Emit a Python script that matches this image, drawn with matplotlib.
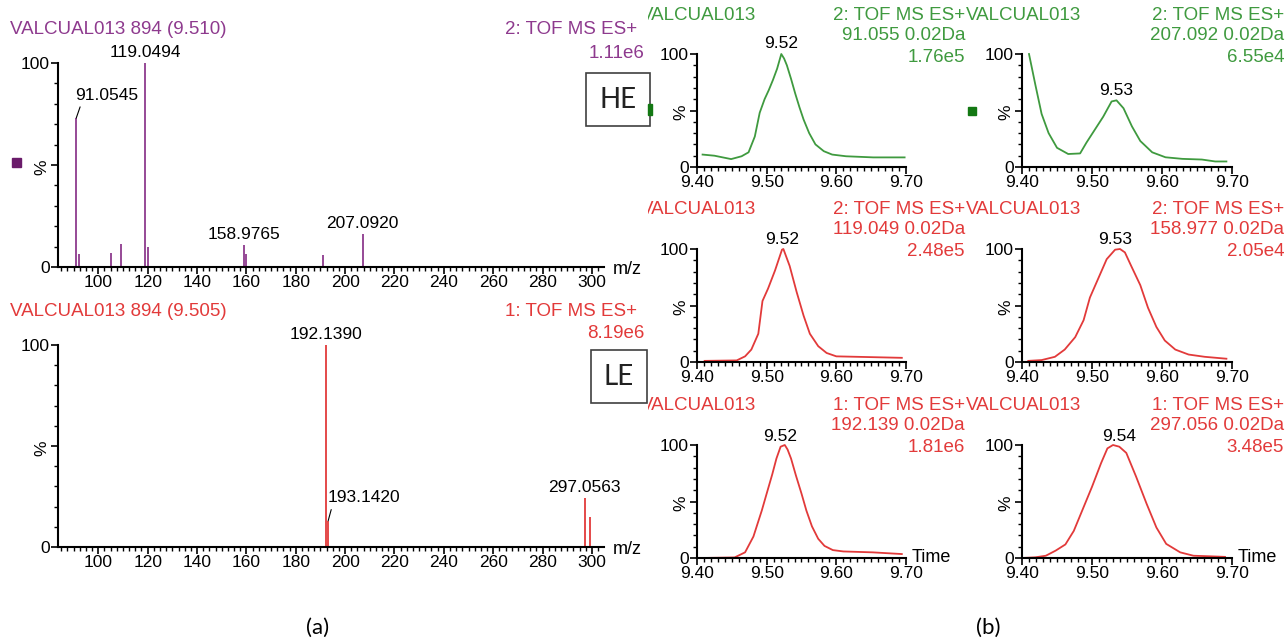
import matplotlib
matplotlib.use('Agg')
import matplotlib.pyplot as plt
from matplotlib.ticker import MultipleLocator
from matplotlib.patches import Rectangle
from matplotlib.transforms import Bbox

W, H = 1287, 643
plt.rcParams['font.family'] = ['Liberation Sans', 'DejaVu Sans']

PURPLE = '#8e3a8e'
GREEN = '#3f9a3f'
RED = '#e23a3a'

# spectrum (a), high energy
he_mz = [91.0545, 92.06, 105.07, 109.10, 119.0494, 120.05, 158.9765, 160.0, 191.1, 207.0920]
he_int = [73, 6.5, 7, 11.5, 100, 10, 10.7, 6.5, 5.7, 16.4]
he_labelled = [119.0494, 158.9765, 207.0920]
# spectrum (a), low energy
le_mz = [192.1390, 193.1420, 297.0563, 299.4]
le_int = [100, 13, 24.4, 15]
le_labelled = [192.1390, 297.0563]

# chromatograms (b)
rt1 = [9.408, 9.425, 9.449, 9.464, 9.474, 9.483, 9.490, 9.497, 9.503, 9.509, 9.515, 9.521, 9.525, 9.529,
       9.535, 9.541, 9.547, 9.553, 9.561, 9.570, 9.582, 9.594, 9.614, 9.653, 9.698]
in1 = [11, 10, 7, 9.5, 13, 27, 48, 60, 68, 77, 87, 100, 96, 90, 78, 65, 53, 42, 30, 20, 14, 11, 9.5, 8.5, 8.5]
rt2 = [9.410, 9.419, 9.428, 9.438, 9.450, 9.466, 9.483, 9.492, 9.504, 9.516, 9.528, 9.535, 9.545, 9.557,
       9.569, 9.586, 9.605, 9.629, 9.657, 9.676, 9.692]
in2 = [100, 73, 47, 30, 17, 11.5, 12, 21.5, 33, 44.5, 58, 59, 52, 36, 23, 13, 8.6, 7.2, 6.6, 4.9, 4.9]
rt3 = [9.411, 9.457, 9.469, 9.478, 9.488, 9.494, 9.502, 9.512, 9.522, 9.524, 9.533, 9.543, 9.553, 9.562,
       9.574, 9.586, 9.600, 9.629, 9.694]
in3 = [1, 1.4, 5, 11, 25, 54, 65, 81, 99.4, 100, 85, 62, 41, 25, 14, 8, 5, 4.6, 3.7]
rt4 = [9.409, 9.428, 9.447, 9.461, 9.476, 9.488, 9.497, 9.509, 9.521, 9.533, 9.540, 9.547, 9.556, 9.569,
       9.580, 9.592, 9.604, 9.619, 9.638, 9.661, 9.692]
in4 = [1, 1.7, 4.6, 11, 22, 37, 57, 74, 91, 99.4, 100, 97, 85, 68, 48, 31, 19, 11, 6.6, 4.6, 2.9]
rt5 = [9.406, 9.454, 9.469, 9.481, 9.493, 9.500, 9.508, 9.514, 9.520, 9.526, 9.530, 9.535, 9.542, 9.550,
       9.557, 9.565, 9.574, 9.583, 9.595, 9.610, 9.652, 9.694]
in5 = [0, 0.5, 5, 19, 42, 57, 74, 88, 98.5, 100, 96, 88, 73, 57, 42, 28, 17, 10.7, 7, 5.8, 5, 3.5]
rt6 = [9.400, 9.419, 9.434, 9.448, 9.462, 9.474, 9.486, 9.500, 9.513, 9.522, 9.530, 9.539, 9.549, 9.563,
       9.578, 9.592, 9.606, 9.626, 9.645, 9.669, 9.690]
in6 = [0, 0.6, 2, 6.5, 12, 24, 42, 63, 84, 97, 100, 98.5, 93, 72, 48, 27, 12.5, 5, 2, 1.5, 1]

chrom_rt = [rt1, rt2, rt3, rt4, rt5, rt6]
chrom_int = [in1, in2, in3, in4, in5, in6]
chrom_peak = [9.52, 9.53, 9.52, 9.53, 9.52, 9.54]
chrom_func = ['2: TOF MS ES+', '2: TOF MS ES+', '2: TOF MS ES+', '2: TOF MS ES+', '1: TOF MS ES+', '1: TOF MS ES+']
chrom_mass = ['91.055 0.02Da', '207.092 0.02Da', '119.049 0.02Da', '158.977 0.02Da', '192.139 0.02Da', '297.056 0.02Da']
chrom_max = ['1.76e5', '6.55e4', '2.48e5', '2.05e4', '1.81e6', '3.48e5']
chrom_color = [GREEN, GREEN, RED, RED, RED, RED]

fig = plt.figure(figsize=(W / 100, H / 100), dpi=100)


def add_ax(x0, y0, x1, y1):
    return fig.add_axes([x0 / W, 1 - y1 / H, (x1 - x0) / W, (y1 - y0) / H])


def ftext(x, y, s, **kw):
    return fig.text(x / W, 1 - y / H, s, **kw)


def style(ax):
    ax.set_ylim(0, 100)
    for s in ['top', 'right']:
        ax.spines[s].set_visible(False)
    for s in ['left', 'bottom']:
        ax.spines[s].set_linewidth(1.5)
    ax.set_yticks([0, 50, 100])
    ax.set_yticklabels(['0', '%', '100'])
    ax.get_yticklabels()[1].set_rotation(90)
    ax.yaxis.set_minor_locator(MultipleLocator(10))
    ax.tick_params(which='major', direction='out', length=5, width=1.2, pad=1, labelsize=12.5)
    ax.tick_params(which='minor', direction='out', length=3, width=1.0)


# ---- (a) spectra ----
mz_lim = (83.67, 304.9)
ax_he = add_ax(58, 63, 604, 267)
ax_le = add_ax(58, 345, 604, 547)
for ax, mz, inten, col in [(ax_he, he_mz, he_int, PURPLE), (ax_le, le_mz, le_int, RED)]:
    ax.vlines(mz, 0, inten, color=col, lw=1.3, clip_on=False)
    style(ax)
    ax.set_xlim(*mz_lim)
    ax.xaxis.set_major_locator(MultipleLocator(20))
    ax.xaxis.set_minor_locator(MultipleLocator(2.5))
    ax.annotate('m/z', xy=(1, 0), xycoords='axes fraction', xytext=(6, -2),
                textcoords='offset points', ha='left', va='center', fontsize=13)

for mz in he_labelled:
    ax_he.annotate(f'{mz:.4f}', xy=(mz, he_int[he_mz.index(mz)]), xytext=(0, 2),
                   textcoords='offset points', ha='center', va='bottom', fontsize=12.5)
for mz in le_labelled:
    ax_le.annotate(f'{mz:.4f}', xy=(mz, le_int[le_mz.index(mz)]), xytext=(0, 2),
                   textcoords='offset points', ha='center', va='bottom', fontsize=12.5)

# labels with leader lines
ax_he.annotate(f'{he_mz[0]:.4f}', xy=(he_mz[0], he_int[0]), xytext=(22, 11),
               textcoords='offset points', ha='center', va='bottom', fontsize=12.5,
               arrowprops=dict(arrowstyle='-', lw=0.8, color='black', relpos=(0.1, 0),
                               shrinkA=1, shrinkB=0))
ax_le.annotate(f'{le_mz[1]:.4f}', xy=(le_mz[1], le_int[1]), xytext=(26, 11),
               textcoords='offset points', ha='center', va='bottom', fontsize=12.5,
               arrowprops=dict(arrowstyle='-', lw=0.8, color='black', relpos=(0.06, 0),
                               shrinkA=1, shrinkB=0))

ftext(10, 30, 'VALCUAL013 894 (9.510)', color=PURPLE, fontsize=13.5, va='center', ha='left')
ftext(637, 30, '2: TOF MS ES+', color=PURPLE, fontsize=13.5, va='center', ha='right')
ftext(645, 53, '1.11e6', color=PURPLE, fontsize=13.5, va='center', ha='right')
ftext(10, 312, 'VALCUAL013 894 (9.505)', color=RED, fontsize=13.5, va='center', ha='left')
ftext(637, 312, '1: TOF MS ES+', color=RED, fontsize=13.5, va='center', ha='right')
ftext(645, 333, '8.19e6', color=RED, fontsize=13.5, va='center', ha='right')

# ---- (b) chromatograms ----
clip = Bbox.from_extents(648, 0, W, H)
cols = [(697, 906, 965), (1022, 1232, 1284)]
rows = [(54, 167), (249, 362), (445, 558)]
for i in range(6):
    r, c = divmod(i, 2)
    x0, x1, xr = cols[c]
    y0, y1 = rows[r]
    ax = add_ax(x0, y0, x1, y1)
    col = chrom_color[i]
    ax.plot(chrom_rt[i], chrom_int[i], color=col, lw=1.3, clip_on=False)
    style(ax)
    ax.set_xlim(9.40, 9.70)
    ax.set_xticks([9.40, 9.50, 9.60, 9.70])
    ax.set_xticklabels([f'{v:.2f}' for v in [9.40, 9.50, 9.60, 9.70]])
    ax.xaxis.set_minor_locator(MultipleLocator(0.01))
    k = min(range(len(chrom_rt[i])), key=lambda j: abs(chrom_rt[i][j] - chrom_peak[i]) - chrom_int[i][j] / 1000)
    if i == 1:
        k = max(range(5, len(chrom_int[i])), key=lambda j: chrom_int[i][j])
    ax.annotate(f'{chrom_peak[i]:.2f}', xy=(chrom_rt[i][k], chrom_int[i][k]), xytext=(0, 2),
                textcoords='offset points', ha='center', va='bottom', fontsize=12.5)
    if r == 2:
        ax.annotate('Time', xy=(1, 0), xycoords='axes fraction', xytext=(4, 0),
                    textcoords='offset points', ha='left', va='center', fontsize=13)
    t = ftext(x0 - 56, y0 - 39, 'VALCUAL013', color=col, fontsize=13.5, va='center', ha='left')
    t.set_clip_box(clip)
    t.set_clip_on(True)
    ftext(xr, y0 - 39, chrom_func[i], color=col, fontsize=13.5, va='center', ha='right')
    ftext(xr, y0 - 19, chrom_mass[i], color=col, fontsize=13.5, va='center', ha='right')
    ftext(xr, y0 + 3, chrom_max[i], color=col, fontsize=13.5, va='center', ha='right')


# markers and boxes in figure pixels
def frect(x0, y0, x1, y1, **kw):
    fig.patches.append(Rectangle((x0 / W, 1 - y1 / H), (x1 - x0) / W, (y1 - y0) / H,
                                 transform=fig.transFigure, figure=fig, **kw))


frect(12, 158, 21, 167, color='#6a1b6a')
frect(968, 107, 976, 115, color='#137813')
frect(586, 73, 650, 126, facecolor='white', edgecolor='#404040', lw=1.2)
frect(648, 104, 652, 115, color='#137813')
frect(591, 350, 647, 403, facecolor='white', edgecolor='#404040', lw=1.2)
ftext(618, 100, 'HE', fontsize=20, family=['Lato', 'DejaVu Sans'], ha='center', va='center', color='#222222')
ftext(619, 377, 'LE', fontsize=20, family=['Lato', 'DejaVu Sans'], ha='center', va='center', color='#222222')
ftext(318, 628, '(a)', fontsize=16, family=['Lato', 'DejaVu Sans'], ha='center', va='center')
ftext(988, 628, '(b)', fontsize=16, family=['Lato', 'DejaVu Sans'], ha='center', va='center')

fig.savefig('out.png', dpi=100)
